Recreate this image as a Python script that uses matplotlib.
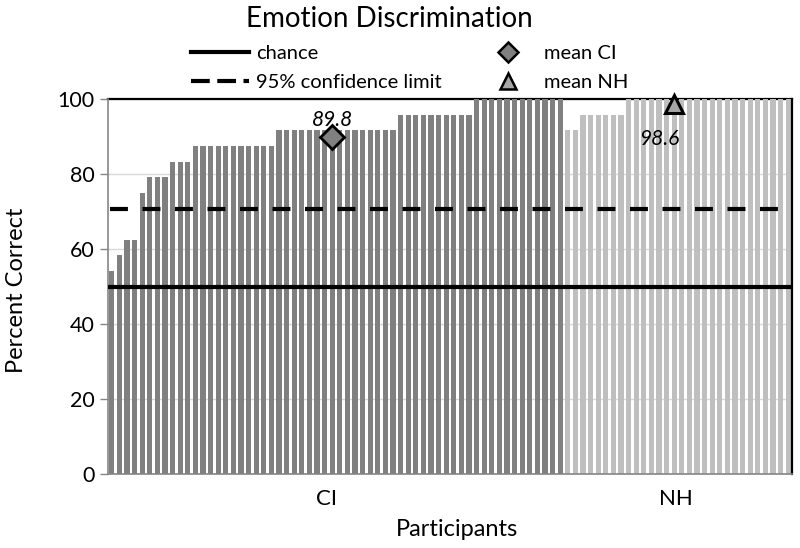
import numpy as np
import matplotlib
matplotlib.use("Agg")
import matplotlib.pyplot as plt
from matplotlib.lines import Line2D

plt.rcParams['font.family'] = ['Lato', 'DejaVu Sans']

# percent correct per participant, sorted within group
ci_scores = [54.17, 58.33, 62.5, 62.5, 75.0,
             79.17, 79.17, 79.17, 83.33, 83.33, 83.33] + [87.5] * 11 + \
            [91.67] * 16 + [95.83] * 10 + [100.0] * 12
nh_scores = [91.67, 91.67] + [95.83] * 6 + [100.0] * 22
ci_mean = 89.8
nh_mean = 98.6
chance = 50
conf_limit = 70.8
groups = ['CI', 'NH']

n_ci = len(ci_scores)
n_nh = len(nh_scores)
x_ci = np.arange(n_ci)
x_nh = np.arange(n_ci, n_ci + n_nh)

fig = plt.figure(figsize=(8, 5.48), dpi=100)
ax = fig.add_axes([0.135, 0.135, 0.855, 0.684])

ax.bar(x_ci, ci_scores, width=0.66, color='#808080', zorder=2)
ax.bar(x_nh, nh_scores, width=0.66, color='#bfbfbf', zorder=2)

ax.axhline(chance, color='black', lw=3, xmin=0.003, xmax=0.997, zorder=3)
ax.axhline(conf_limit, color='black', lw=3, linestyle=(0, (4.3, 3.5)),
           xmin=0.003, xmax=0.997, zorder=3)

# group means
ax.plot(29, ci_mean, marker='D', ms=12, mfc='#808080', mec='black', mew=2, zorder=4)
ax.plot(74, nh_mean, marker='^', ms=13, mfc='#a6a6a6', mec='black', mew=2.2, zorder=4,
        clip_on=False)
ax.text(29, ci_mean + 2.0, f'{ci_mean:.1f}', style='italic', fontsize=15,
        ha='center', va='bottom')
ax.text(72, nh_mean - 6.5, f'{nh_mean:.1f}', style='italic', fontsize=15,
        ha='center', va='top')

ax.set_xlim(-0.5, n_ci + n_nh - 0.5)
ax.set_ylim(0, 100)
ax.set_yticks(np.arange(0, 101, 20))
ax.yaxis.grid(True, color='#d9d9d9', lw=1, zorder=0)
ax.set_axisbelow(True)
ax.tick_params(axis='y', labelsize=15.5, length=6, color='#868686', width=1)
ax.set_xticks([28.2, 74.2])
ax.set_xticklabels(groups, fontsize=16)
ax.tick_params(axis='x', length=0, pad=11)

for side in ['left', 'bottom']:
    ax.spines[side].set_color('#868686')
    ax.spines[side].set_linewidth(1.2)
for side in ['top', 'right']:
    ax.spines[side].set_color('black')
    ax.spines[side].set_linewidth(1.6)
ax.spines['top'].set_zorder(1)

ax.set_ylabel('Percent Correct', fontsize=17)
ax.yaxis.set_label_coords(-0.118, 0.49)
ax.set_xlabel('Participants', fontsize=17)
ax.xaxis.set_label_coords(0.51, -0.12)

fig.text(0.487, 0.965, 'Emotion Discrimination', fontsize=20, ha='center', va='center')

handles = [
    Line2D([], [], color='black', lw=3),
    Line2D([], [], color='black', lw=3, linestyle=(0, (4.5, 1.8))),
    Line2D([], [], ls='none', marker='D', ms=10, mfc='#808080', mec='black', mew=1.8),
    Line2D([], [], ls='none', marker='^', ms=11, mfc='#a6a6a6', mec='black', mew=1.8),
]
labels = ['chance', '95% confidence limit', 'mean CI', 'mean NH']
fig.legend(handles, labels, ncol=2, loc='center', bbox_to_anchor=(0.512, 0.876),
           frameon=False, fontsize=14.5, handlelength=2.9, handletextpad=0.35,
           columnspacing=1.85, labelspacing=0.6)

fig.savefig('out.png', dpi=100)
